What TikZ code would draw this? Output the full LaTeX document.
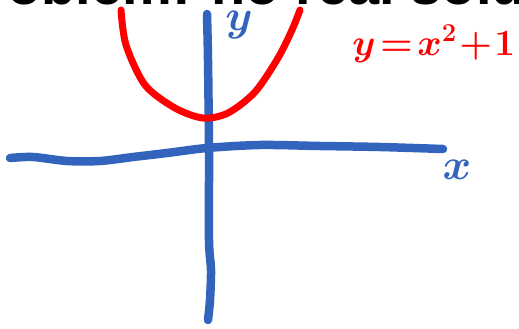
\documentclass[tikz,border=0pt]{standalone}
\usepackage{fontspec}
\newfontfamily\titlefont{Liberation Sans}
\definecolor{penblue}{RGB}{50,100,190}
\definecolor{penred}{RGB}{255,0,0}

\begin{document}
\begin{tikzpicture}[
        x = 1pt, y = -1pt,
        bluepen/.style = {draw = penblue, line width = 8.5pt, line cap = round, line join = round},
        redpen/.style = {draw = penred, line width = 7pt, line cap = round, line join = round},
        inklabel/.style = {inner sep = 0pt, font = \boldmath\huge, scale = 2.1}
    ]

      \useasboundingbox (0,0) rectangle (519,329);
      \clip (0,0) rectangle (519,329);

      % title, cut off by the top edge
      \node[anchor = south west, inner sep = 0pt,
            font = \titlefont\bfseries\fontsize{56}{60}\selectfont
      ] (title) at (-52,5) {Problem: no real solutions};

      % axes
      \draw[bluepen] plot[smooth] coordinates {(10,158) (33,157) (67,161) (100,161) (133,157) (167,153)
                                               (207,148) (260,145) (320,146) (380,147) (443,149)};
      \draw[bluepen] plot[smooth] coordinates {(207,14) (208,60) (209,150) (209,240) (211,270) (210,300) (208,320)};

      % parabola
      \draw[redpen] plot[smooth] coordinates {(121,10) (126,45) (145,85) (175,108) (203,118)
                                              (228,113) (255,92) (278,58) (292,30) (300,10)};

      % labels
      \node[inklabel, text = penblue] (ylab) at (239,25) {$y$};
      \node[inklabel, text = penblue] (xlab) at (457,170) {$x$};
      \node[inklabel, text = penred, anchor = west, scale = 0.85] (eqn) at (352,44) {$y\!=\!x^2\!+\!1$};

    \end{tikzpicture}
\end{document}
